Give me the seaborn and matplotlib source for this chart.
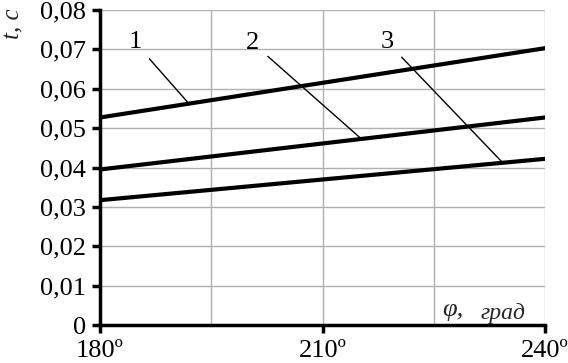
import matplotlib
matplotlib.use("Agg")
import matplotlib.pyplot as plt
import seaborn as sns
import pandas as pd
from matplotlib.ticker import MultipleLocator, FixedLocator

sns.set_theme(style="white")
plt.rcParams['font.family'] = ['Liberation Serif', 'DejaVu Serif']

phi = [180, 240]
t1 = [0.0527, 0.0703]
t2 = [0.0395, 0.0527]
t3 = [0.0317, 0.0422]
curve_labels = ["1", "2", "3"]
label_pos = [(184.7, 0.0718), (200.6, 0.0716), (218.7, 0.0719)]
leader_end = [(191.9, 0.0564), (215.1, 0.0475), (234.2, 0.0414)]
x_ticks = [180, 210, 240]
x_ticklabels = ["180º", "210º", "240º"]
y_ticks = [0, 0.01, 0.02, 0.03, 0.04, 0.05, 0.06, 0.07, 0.08]
y_ticklabels = ["0", "0,01", "0,02", "0,03", "0,04", "0,05", "0,06", "0,07", "0,08"]

df = pd.concat([
    pd.DataFrame({"phi": phi, "t": t, "curve": c})
    for t, c in zip([t1, t2, t3], curve_labels)
])

fig = plt.figure(figsize=(5.68, 3.63), dpi=100)
ax = fig.add_axes([100/568, 38/363, 445/568, 315/363])

sns.lineplot(data=df, x="phi", y="t", units="curve", estimator=None,
             color="black", linewidth=3.0, ax=ax, legend=False)

ax.set_xlim(180, 240)
ax.set_ylim(0, 0.08)
ax.xaxis.set_major_locator(FixedLocator(x_ticks))
ax.set_xticklabels(x_ticklabels)
ax.xaxis.set_minor_locator(MultipleLocator(15))
ax.set_yticks(y_ticks)
ax.set_yticklabels(y_ticklabels)
ax.grid(True, which="both", color="#b0b0b0", linewidth=1.0)
ax.set_axisbelow(True)

for s in ["top", "right"]:
    ax.spines[s].set_visible(False)
for s in ["left", "bottom"]:
    ax.spines[s].set_color("black")
    ax.spines[s].set_linewidth(2.5)

ax.tick_params(axis="both", which="major", direction="out", length=6, width=2.5,
               color="black", labelsize=19, labelcolor="black")
ax.tick_params(axis="x", which="major", pad=5)
ax.tick_params(axis="y", which="major", pad=4)
ax.tick_params(axis="x", which="minor", length=0)
ax.tick_params(left=True, bottom=True)
ax.set_xlabel("")
ax.set_ylabel("")

for lab, (lx, ly), (ex, ey) in zip(curve_labels, label_pos, leader_end):
    ax.annotate(lab, xy=(ex, ey), xytext=(lx, ly), fontsize=19, color="black",
                ha="center", va="center",
                arrowprops=dict(arrowstyle="-", color="black", lw=1.0,
                                shrinkA=5, shrinkB=0))

fig.text(13/568, 1 - 24/363, "t, с", rotation=90, fontsize=18, style="italic",
         ha="center", va="center")
fig.text(453/568, 1 - 310/363, "φ,", fontsize=19, style="italic",
         ha="center", va="center")
fig.text(503/568, 1 - 314/363, "град", fontsize=17, style="italic",
         ha="center", va="center")

fig.savefig("out.png", dpi=100)
